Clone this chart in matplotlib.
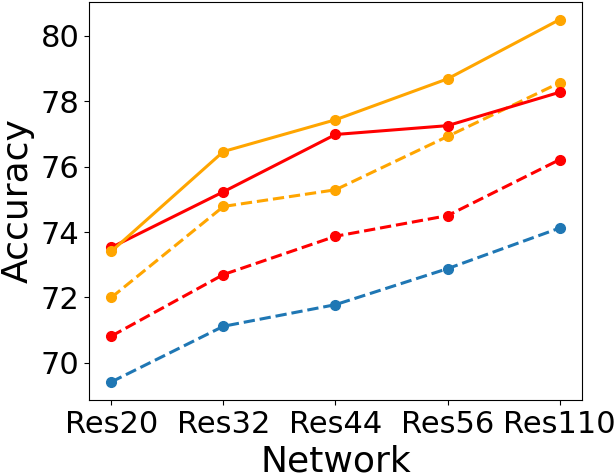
import matplotlib
matplotlib.use("Agg")
import matplotlib.pyplot as plt
from matplotlib.ticker import MultipleLocator

networks = ['Res20', 'Res32', 'Res44', 'Res56', 'Res110']

# accuracy of each method per network
blue_dashed = [69.42, 71.12, 71.78, 72.88, 74.12]
red_dashed = [70.82, 72.70, 73.87, 74.50, 76.21]
orange_dashed = [72.00, 74.78, 75.29, 76.92, 78.56]
red_solid = [73.53, 75.23, 76.98, 77.25, 78.27]
orange_solid = [73.41, 76.46, 77.43, 78.68, 80.49]

fig = plt.figure(figsize=(6.15, 4.75), dpi=100)
ax = fig.add_axes([0.1447, 0.1579, 0.8016, 0.8389])

x = range(len(networks))
ax.plot(x, blue_dashed, '--o', color='tab:blue', lw=2.2, ms=7)
ax.plot(x, red_dashed, '--o', color='red', lw=2.2, ms=7)
ax.plot(x, orange_dashed, '--o', color='orange', lw=2.2, ms=7)
ax.plot(x, red_solid, '-o', color='red', lw=2.2, ms=7)
ax.plot(x, orange_solid, '-o', color='orange', lw=2.2, ms=7)

ax.set_xticks(list(x))
ax.set_xticklabels(networks)
ax.yaxis.set_major_locator(MultipleLocator(2))
ax.tick_params(labelsize=22)
ax.set_xlabel('Network', fontsize=26)
ax.set_ylabel('Accuracy', fontsize=26)

fig.savefig('out.png', dpi=100)
